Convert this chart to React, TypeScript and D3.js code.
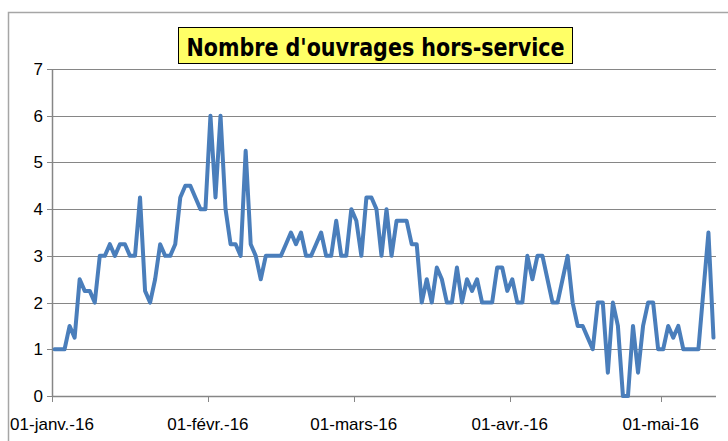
import React from "react";
import * as d3 from "d3";

const startDate = new Date(2016, 0, 1);
const endDate = new Date(2016, 4, 12);
const values: number[] = [
  1, 1, 1, 1.5, 1.25, 2.5, 2.25, 2.25, 2, 3,
  3, 3.25, 3, 3.25, 3.25, 3, 3, 4.25, 2.25, 2,
  2.5, 3.25, 3, 3, 3.25, 4.25, 4.5, 4.5, 4.25, 4,
  4, 6, 4.25, 6, 4, 3.25, 3.25, 3, 5.25, 3.25,
  3, 2.5, 3, 3, 3, 3, 3.25, 3.5, 3.25, 3.5,
  3, 3, 3.25, 3.5, 3, 3, 3.75, 3, 3, 4,
  3.75, 3, 4.25, 4.25, 4, 3, 4, 3, 3.75, 3.75,
  3.75, 3.25, 3.25, 2, 2.5, 2, 2.75, 2.5, 2, 2,
  2.75, 2, 2.5, 2.25, 2.5, 2, 2, 2, 2.75, 2.75,
  2.25, 2.5, 2, 2, 3, 2.5, 3, 3, 2.5, 2,
  2, 2.5, 3, 2, 1.5, 1.5, 1.25, 1, 2, 2,
  0.5, 2, 1.5, 0, 0, 1.5, 0.5, 1.5, 2, 2,
  1, 1, 1.5, 1.25, 1.5, 1, 1, 1, 1, 2.25,
  3.5, 1.25,
];
const yTicks = [0, 1, 2, 3, 4, 5, 6, 7];
const xTickDates = [
  new Date(2016, 0, 1),
  new Date(2016, 1, 1),
  new Date(2016, 2, 1),
  new Date(2016, 3, 1),
  new Date(2016, 4, 1),
];
const xTickLabels = ["01-janv.-16", "01-févr.-16", "01-mars-16", "01-avr.-16", "01-mai-16"];
const title = "Nombre d'ouvrages hors-service";

const W = 728;
const H = 441;
const left = 52;
const right = 716;
const top = 69;
const bottom = 396;

export default function App() {
  const x = d3.scaleTime().domain([startDate, endDate]).range([left, right]);
  const y = d3.scaleLinear().domain([0, 7]).range([bottom, top]);
  const pts: [Date, number][] = values.map((v, i) => [
    new Date(2016, 0, 1 + i, 12),
    v,
  ]);
  const line = d3
    .line<[Date, number]>()
    .x((d) => x(d[0]))
    .y((d) => y(d[1]));
  const axisColor = "#868686";
  const font = "'Liberation Sans', Arial, sans-serif";
  return (
    <svg
      width={W}
      height={H}
      style={{ position: "absolute", left: 0, top: 0, background: "#fff" }}
    >
      <rect x={8.5} y={12.5} width={730} height={440} fill="#fff" stroke="#a6a6a6" strokeWidth={1.5} />
      {yTicks.map((t) => (
        <g key={t}>
          {t > 0 && (
            <line x1={left} x2={right} y1={Math.round(y(t)) + 0.5} y2={Math.round(y(t)) + 0.5} stroke={axisColor} strokeWidth={1} />
          )}
          <line x1={left - 5} x2={left} y1={Math.round(y(t)) + 0.5} y2={Math.round(y(t)) + 0.5} stroke={axisColor} strokeWidth={1} />
          <text x={43} y={y(t) + 6} textAnchor="end" fontFamily={font} fontSize={17} fill="#000">
            {t}
          </text>
        </g>
      ))}
      <line x1={left + 0.5} x2={left + 0.5} y1={top} y2={bottom} stroke={axisColor} strokeWidth={1.5} />
      <line x1={left} x2={right} y1={bottom + 0.5} y2={bottom + 0.5} stroke={axisColor} strokeWidth={1.5} />
      {xTickDates.map((d, i) => (
        <g key={i}>
          <line x1={Math.round(x(d)) + 0.5} x2={Math.round(x(d)) + 0.5} y1={bottom} y2={bottom + 6} stroke={axisColor} strokeWidth={1} />
          <text x={x(d)} y={430} textAnchor="middle" fontFamily={font} fontSize={17} fill="#000">
            {xTickLabels[i]}
          </text>
        </g>
      ))}
      <path d={line(pts) || ""} fill="none" stroke="#4a7ebb" strokeWidth={4} strokeLinejoin="round" strokeLinecap="round" />
      <rect x={178.5} y={27.5} width={394} height={36} fill="#ffff66" stroke="#000" strokeWidth={1} />
      <text x={375.5} y={55.5} textAnchor="middle" textLength={378} lengthAdjust="spacingAndGlyphs" fontFamily="'DejaVu Sans Condensed', 'Liberation Sans Narrow', 'Liberation Sans', sans-serif" fontWeight="bold" fontSize={25} fill="#000">
        {title}
      </text>
    </svg>
  );
}
